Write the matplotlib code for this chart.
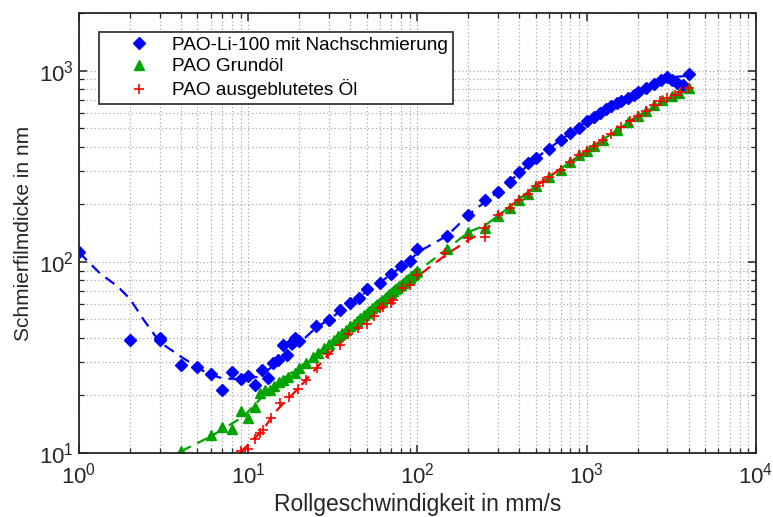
#!/usr/bin/env python3
"""Schmierfilmdicke vs. Rollgeschwindigkeit (log-log), PAO samples."""

import matplotlib

matplotlib.use("Agg")
import matplotlib.pyplot as plt

# PAO-Li-100 mit Nachschmierung (measured points)
blue_x = [1, 2, 3, 3, 4, 5, 6, 7, 8, 9, 10, 11, 12, 13, 14, 15, 16, 17, 18, 19, 20,
          25, 30, 35, 40, 45, 50, 60, 70, 80, 90, 100, 150, 200, 250, 300, 350, 400,
          450, 500, 600, 700, 800, 900, 1000, 1100, 1200, 1300, 1400, 1500, 1600,
          1750, 1900, 2000, 2250, 2500, 2750, 3000, 3200, 3400, 3700, 4000]
blue_y = [112, 39, 40, 39, 29, 28, 25.8, 21.4, 26.5, 24.3, 25.3, 22.7, 27.2, 24.6,
          29.4, 30.6, 36.7, 32.6, 37.5, 39.8, 38.6, 46, 49.5, 56, 60.7, 65, 72, 77,
          86, 95, 101, 116, 137, 176, 210, 233, 262, 296, 327, 348, 387, 433, 470,
          499, 545, 574, 598, 628, 654, 675, 696, 722, 745, 770, 807, 851, 893, 930,
          893, 865, 841, 960]
# dashed trend line
blue_fit_x = [1, 1.33, 1.7, 2, 2.4, 3, 4, 5.7, 7, 9, 11.7, 15, 20, 25, 30, 40, 50, 60,
              70, 80, 90, 100, 150, 200, 300, 500, 700, 1000, 1500, 2000, 3000, 4000]
blue_fit_y = [112, 87, 74, 64, 50, 38, 31.9, 26.1, 24.6, 24.3, 25.1, 30, 37.5, 45, 50,
              60, 70, 78, 86, 94, 101, 112, 137, 176, 233, 348, 433, 545, 675, 770,
              920, 940]

# PAO Grundöl
green_x = [4, 6, 7, 8, 9, 10, 11, 11.7, 12.6, 13.4, 14.2, 15.1, 16.1, 17.2, 18.9,
           20, 22, 24, 26, 28, 30, 32, 34, 36, 38, 40, 42, 44, 46, 48, 50, 52, 54, 56,
           58, 60, 62, 64, 66, 68, 70, 72, 74, 76, 78, 80, 82, 84, 86, 88, 90, 92, 94,
           96, 98, 100, 150, 200, 250, 300, 350, 400, 450, 500, 600, 700, 800, 900,
           1000, 1100, 1250, 1500, 1750, 2000, 2250, 2500, 2800, 3200, 3500, 4000]
green_y = [10.3, 12.4, 13.6, 13.3, 16.6, 15.2, 17.5, 20.5, 21.4, 21.4, 22.5, 23.6,
           24.1, 25.1, 26.1, 27.7, 29.7, 31.6, 33.5, 35.4, 37.2, 39.0, 40.7, 42.5,
           44.2, 45.9, 47.5, 49.1, 50.8, 52.4, 54.0, 55.5, 57.1, 58.6, 60.1, 61.6,
           63.1, 64.5, 66.0, 67.5, 68.8, 70.3, 71.7, 73.1, 74.5, 75.9, 77.3, 78.6,
           80.0, 81.4, 82.7, 84.0, 85.4, 86.7, 88.0, 89.3, 116, 144, 151, 174, 190,
           210, 225, 249, 279, 302, 334, 362, 381, 405, 433, 489, 541, 579, 617, 661,
           702, 736, 766, 807]
green_fit_x = [4, 6, 9.35, 12, 15, 20, 30, 50, 70, 100, 150, 200, 250, 300, 500, 1000,
               2000, 4000]
green_fit_y = [10.2, 12.2, 15.5, 19.5, 23.5, 28, 37.2, 54, 68.8, 89, 117, 143, 155,
               174, 249, 381, 579, 807]

# PAO ausgeblutetes Öl
red_x = [9, 10, 11, 11.7, 12.3, 13.7, 15.4, 17.3, 19.8, 22, 25.4, 29.7, 34.8, 39,
         44.6, 50, 55, 60, 62.6, 70, 72, 80.7, 90, 99, 145, 200, 250, 250, 300, 350,
         400, 450, 500, 550, 600, 700, 800, 900, 1000, 1100, 1250, 1400, 1600, 1800,
         2000, 2250, 2500, 2700, 3000, 3300, 3600, 4000]
red_y = [10.3, 10.5, 11.9, 12.7, 13.2, 15.2, 18.2, 19.7, 21.5, 24, 27.7, 32.9, 36.7,
         42, 44.9, 47.5, 52, 57, 58.3, 61, 63, 72.6, 75.5, 85, 111, 133, 151, 135,
         176, 190, 210, 225, 249, 262, 279, 302, 334, 362, 381, 405, 433, 465, 505,
         545, 579, 617, 661, 690, 715, 745, 772, 807]
red_fit_x = [9, 12, 15, 20, 30, 40, 50, 70, 100, 150, 200, 250, 300, 500, 1000, 2000,
             4000]
red_fit_y = [10.1, 13, 17, 22, 33, 42, 49, 63, 84, 110, 130, 145, 174, 249, 381, 579,
             807]

labels = ["PAO-Li-100 mit Nachschmierung", "PAO Grundöl", "PAO ausgeblutetes Öl"]

BLUE = "#0000ff"
GREEN = "#00a400"
RED = "#ff0000"
INK = "#262626"

plt.rcParams["font.family"] = ["Liberation Sans", "DejaVu Sans"]
plt.rcParams["mathtext.default"] = "regular"

fig = plt.figure(figsize=(7.73, 5.17), dpi=100)
ax = fig.add_axes([0.1022, 0.1238, 0.8758, 0.851])

dash = dict(linestyle=(0, (5, 3.2)), linewidth=1.6)
ax.plot(blue_fit_x, blue_fit_y, color=BLUE, **dash)
ax.plot(green_fit_x, green_fit_y, color=GREEN, **dash)
ax.plot(red_fit_x, red_fit_y, color=RED, **dash)

ax.plot(blue_x, blue_y, "D", color=BLUE, ms=6, mec=BLUE, label=labels[0])
ax.plot(green_x, green_y, "^", color=GREEN, ms=7.2, mec=GREEN, label=labels[1])
ax.plot(red_x, red_y, "+", color=RED, ms=7, mew=1.2, label=labels[2])

ax.set_xscale("log")
ax.set_yscale("log")
ax.set_xlim(1, 1e4)
ax.set_ylim(10, 2000)

ax.grid(True, which="both", linestyle=(0, (1, 2)), color="#a8a8a8", linewidth=0.9)
ax.tick_params(which="both", direction="in", top=True, right=True, labelsize=16,
               colors=INK)
ax.tick_params(which="major", length=6, width=1.1)
ax.tick_params(which="minor", length=3.5, width=0.9)
ax.tick_params(axis="x", which="major", pad=7)
ax.tick_params(axis="y", which="major", pad=4)
for spine in ax.spines.values():
    spine.set_linewidth(1.3)
    spine.set_color(INK)

ax.set_xlabel("Rollgeschwindigkeit in mm/s", fontsize=16.5, color=INK, labelpad=3)
ax.set_ylabel("Schmierfilmdicke in nm", fontsize=15, color=INK, labelpad=4)

leg = ax.legend(loc="upper left", bbox_to_anchor=(0.029, 0.9575), borderaxespad=0,
                fontsize=13.7, fancybox=False, edgecolor=INK, framealpha=1,
                labelspacing=0.22, handletextpad=-0.07, borderpad=0.25,
                handlelength=3.7)
leg.get_frame().set_linewidth(1.2)

fig.savefig("out.png", dpi=100)
